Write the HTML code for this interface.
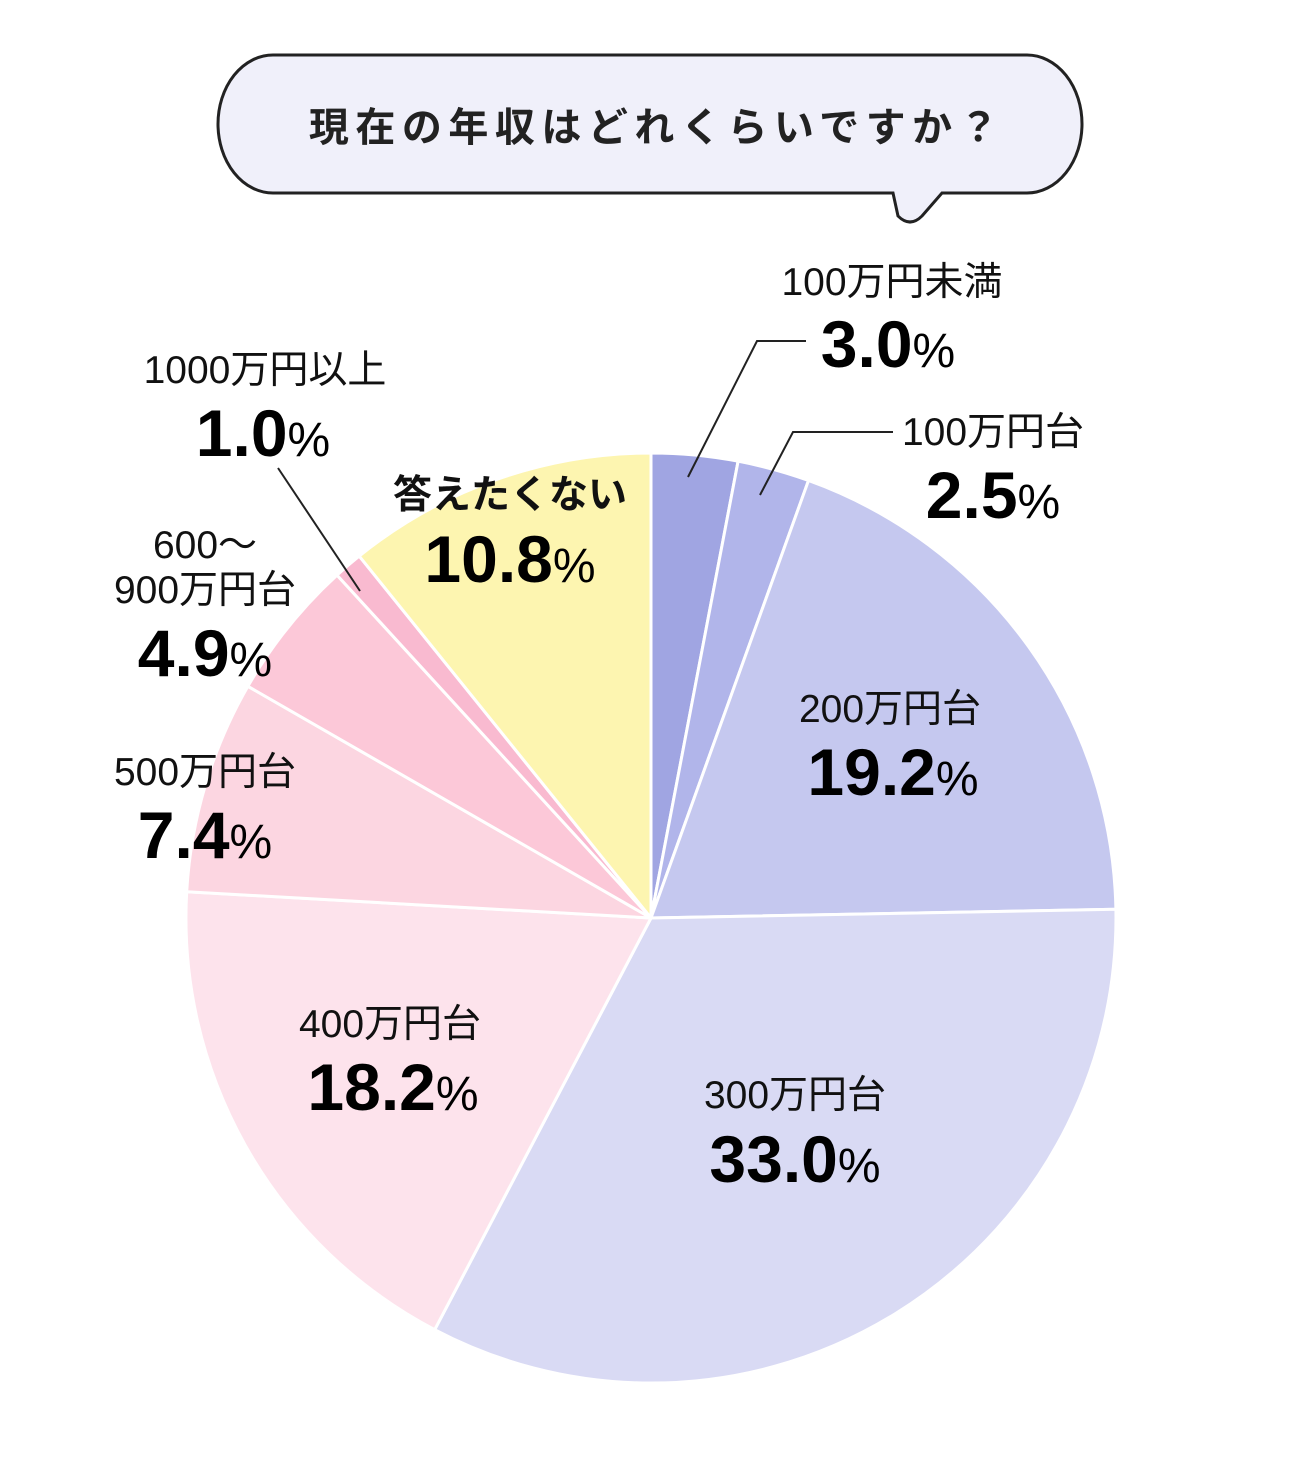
<!DOCTYPE html>
<html><head><meta charset="utf-8"><style>
html,body{margin:0;padding:0;background:#fff;}
svg{display:block;}
.l{font-family:"Liberation Sans","Noto Sans CJK JP",sans-serif;font-size:39px;fill:#111;}
.n{font-family:"Liberation Sans Narrow","Liberation Sans",sans-serif;font-weight:bold;font-size:66px;fill:#000;}
.p{font-family:"Liberation Sans",sans-serif;font-size:48px;fill:#000;}
.t{font-family:"Liberation Sans","Noto Sans CJK JP",sans-serif;font-size:40px;font-weight:bold;letter-spacing:6.5px;fill:#222;}
</style></head><body>
<svg width="1300" height="1475" viewBox="0 0 1300 1475" xmlns="http://www.w3.org/2000/svg">
<path d="M273,55 H1027 A55,69 0 0 1 1027,193 H942 L922,216 Q910,228 898,216 L893,193 H273 A55,69 0 0 1 273,55 Z" fill="#f0f0fa" stroke="#222" stroke-width="3"/>
<text class="t" x="657" y="141" text-anchor="middle">現在の年収はどれくらいですか？</text>
<g stroke="#fff" stroke-width="3" stroke-linejoin="round">
<path d="M651,918 L651,453 A465,465 0 0 1 738.1,461.2 Z" fill="#a0a5e2"/>
<path d="M651,918 L738.1,461.2 A465,465 0 0 1 808.5,480.5 Z" fill="#b1b5ea"/>
<path d="M651,918 L808.5,480.5 A465,465 0 0 1 1115.9,909.2 Z" fill="#c5c8ef"/>
<path d="M651,918 L1115.9,909.2 A465,465 0 0 1 434.7,1329.7 Z" fill="#d9daf4"/>
<path d="M651,918 L434.7,1329.7 A465,465 0 0 1 186.7,891.7 Z" fill="#fde3ec"/>
<path d="M651,918 L186.7,891.7 A465,465 0 0 1 247.9,686.3 Z" fill="#fcd6e1"/>
<path d="M651,918 L247.9,686.3 A465,465 0 0 1 337,575.1 Z" fill="#fcc8d8"/>
<path d="M651,918 L337,575.1 A465,465 0 0 1 359.2,556.1 Z" fill="#f9bad0"/>
<path d="M651,918 L359.2,556.1 A465,465 0 0 1 651,453 Z" fill="#fdf5b0"/>
</g>
<g stroke="#222" stroke-width="2" fill="none">
<polyline points="688,477 757,341 806,341"/>
<polyline points="760,495 793,432 893,432"/>
<line x1="278" y1="468" x2="360" y2="591"/>
</g>
<text class="l" x="892" y="295" text-anchor="middle">100万円未満</text>
<text x="888" y="367" text-anchor="middle"><tspan class="n">3.0</tspan><tspan class="p">%</tspan></text>
<text class="l" x="993" y="445" text-anchor="middle">100万円台</text>
<text x="993" y="518" text-anchor="middle"><tspan class="n">2.5</tspan><tspan class="p">%</tspan></text>
<text class="l" x="890" y="722" text-anchor="middle">200万円台</text>
<text x="893" y="795" text-anchor="middle"><tspan class="n">19.2</tspan><tspan class="p">%</tspan></text>
<text class="l" x="795" y="1108" text-anchor="middle">300万円台</text>
<text x="795" y="1182" text-anchor="middle"><tspan class="n">33.0</tspan><tspan class="p">%</tspan></text>
<text class="l" x="390" y="1037" text-anchor="middle">400万円台</text>
<text x="393" y="1110" text-anchor="middle"><tspan class="n">18.2</tspan><tspan class="p">%</tspan></text>
<text class="l" x="205" y="785" text-anchor="middle">500万円台</text>
<text x="205" y="858" text-anchor="middle"><tspan class="n">7.4</tspan><tspan class="p">%</tspan></text>
<text class="l" x="205" y="558" text-anchor="middle">600～</text>
<text class="l" x="205" y="603" text-anchor="middle">900万円台</text>
<text x="205" y="676" text-anchor="middle"><tspan class="n">4.9</tspan><tspan class="p">%</tspan></text>
<text class="l" x="265" y="383" text-anchor="middle">1000万円以上</text>
<text x="263" y="456" text-anchor="middle"><tspan class="n">1.0</tspan><tspan class="p">%</tspan></text>
<text class="l" x="510" y="508" text-anchor="middle" font-weight="bold">答えたくない</text>
<text x="510" y="582" text-anchor="middle"><tspan class="n">10.8</tspan><tspan class="p">%</tspan></text>
</svg>
</body></html>
